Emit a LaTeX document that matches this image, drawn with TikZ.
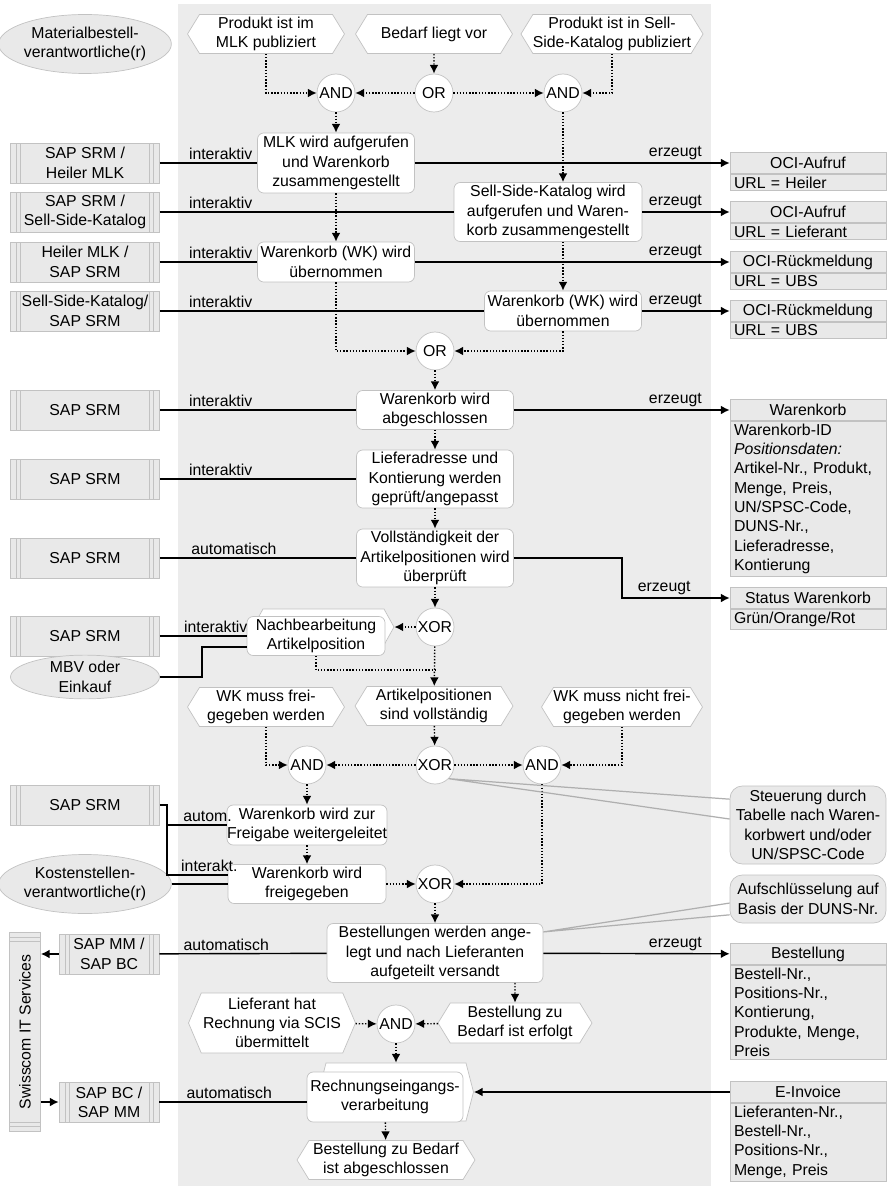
\documentclass[tikz,border=0pt]{standalone}
\usepackage{fontspec}
\setmainfont{Liberation Sans}
\usepackage{tikz}
\usetikzlibrary{shapes.geometric,shapes.symbols,arrows.meta,calc}
\definecolor{flaeche}{HTML}{ECECEC}
\definecolor{rand}{HTML}{C2C2C2}
\definecolor{kasten}{HTML}{E9E9E9}
\tikzset{
  fkt/.style={draw=rand, fill=white, rounded corners=3.5pt, align=center, inner sep=0pt, minimum width=3.14cm},
  ereignis/.style={signal, signal to=west and east, signal pointer angle=117, draw=rand, fill=white,
    align=center, inner sep=0pt, minimum width=3.14cm, minimum height=0.78cm},
  konn/.style={circle, draw=rand, fill=white, minimum size=0.76cm, inner sep=0pt},
  anw/.style={draw=rand, fill=kasten, align=center, inner sep=0pt, minimum width=2.98cm, minimum height=0.8cm,
    path picture={\foreach \d in {3.4pt,5.7pt}{
      \draw[rand] ([xshift=\d]path picture bounding box.north west) -- ([xshift=\d]path picture bounding box.south west);
      \draw[rand] ([xshift=-\d]path picture bounding box.north east) -- ([xshift=-\d]path picture bounding box.south east);}}},
  anwv/.style={draw=rand, fill=kasten, inner sep=0pt, minimum width=0.62cm, minimum height=3.98cm,
    path picture={\foreach \d in {2.8pt,5.1pt}{
      \draw[rand] ([yshift=-\d]path picture bounding box.north west) -- ([yshift=-\d]path picture bounding box.north east);
      \draw[rand] ([yshift=\d]path picture bounding box.south west) -- ([yshift=\d]path picture bounding box.south east);}}},
  orgein/.style={ellipse, draw=rand, fill=kasten, align=center, inner sep=0pt, minimum width=2.98cm},
  dkopf/.style={draw=rand, fill=kasten, inner sep=0pt, minimum width=3.12cm, minimum height=0.42cm},
  dinhalt/.style={draw=rand, fill=kasten, anchor=north, text width=2.96cm, inner xsep=0.08cm, inner ysep=1.4pt, align=left},
  notiz/.style={draw=rand, fill=kasten, rounded corners=7pt, align=center, inner sep=0pt, minimum width=3.12cm},
  notizlinie/.style={draw=rand!90!black, line width=0.7pt},
  kfluss/.style={densely dotted, line width=0.8pt, ->},
  linie/.style={line width=0.8pt},
  pfeil/.style={line width=0.8pt, ->},
  beschr/.style={inner sep=1.5pt}
}

\begin{document}
\begin{tikzpicture}[x=0.02cm, y=-0.02cm, >={Latex[length=5pt,width=5pt]},
  every node/.append style={font=\fontsize{9pt}{11pt}\selectfont}]
	\useasboundingbox (0,0) rectangle (887,1189);
	\fill[flaeche] (178,4) rectangle (711,1186);
	% Organisation und Ereignisse oben
	\node[orgein, minimum height=1.18cm] (oMatBest) at (85,44) {Materialbestell-\\verantwortliche(r)};
	\node[ereignis] (eMLK) at (266,34) {Produkt ist im\\MLK publiziert};
	\node[ereignis] (eBedarf) at (434,34) {Bedarf liegt vor};
	\node[ereignis, minimum width=3.56cm] (eSSK) at (612,34) {Produkt ist in Sell-\\Side-Katalog publiziert};
	\node[konn] (and1) at (336,93) {AND};
	\node[konn] (or1) at (434,93) {OR};
	\node[konn] (and2) at (563,93) {AND};
	% Funktionen
	\node[fkt, minimum height=1.2cm] (fMLK) at (336,163) {MLK wird aufgerufen\\und Warenkorb\\zusammengestellt};
	\node[fkt, minimum width=3.76cm, minimum height=1.18cm] (fSSK) at (548,212) {Sell-Side-Katalog wird\\aufgerufen und Waren-\\korb zusammengestellt};
	\node[fkt, minimum height=0.8cm] (fWK1) at (336,262) {Warenkorb (WK) wird\\übernommen};
	\node[fkt, minimum height=0.8cm] (fWK2) at (563,311) {Warenkorb (WK) wird\\übernommen};
	\node[konn] (or2) at (435,351) {OR};
	\node[fkt, minimum height=0.78cm] (fAbschl) at (435,410) {Warenkorb wird\\abgeschlossen};
	\node[fkt, minimum height=1.16cm] (fLief) at (435,479) {Lieferadresse und\\Kontierung werden\\geprüft/angepasst};
	\node[fkt, minimum height=1.16cm] (fVoll) at (435,558) {Vollständigkeit der\\Artikelpositionen wird\\überprüft};
	\node[konn] (xor1) at (435,627) {XOR};
	\node[ereignis, minimum width=2.82cm, minimum height=0.72cm, signal pointer angle=122] (hNachb) at (323.5,627) {};
	\node[fkt, minimum width=2.76cm, minimum height=0.78cm] (fNachb) at (316,636) {Nachbearbeitung\\Artikelposition};
	\node[ereignis, minimum width=3.16cm] (eVoll) at (434,706) {Artikelpositionen\\sind vollständig};
	\node[ereignis] (eFrei) at (266,707) {WK muss frei-\\gegeben werden};
	\node[ereignis] (eNichtFrei) at (622,707) {WK muss nicht frei-\\gegeben werden};
	\node[konn] (xor2) at (435,765) {XOR};
	\node[konn] (and3) at (307,765) {AND};
	\node[konn] (and4) at (542,765) {AND};
	\node[fkt, minimum width=3.16cm, minimum height=0.8cm] (fWeiter) at (307,825) {Warenkorb wird zur\\Freigabe weitergeleitet};
	\node[fkt, minimum width=3.16cm, minimum height=0.78cm] (fFrei) at (307,884) {Warenkorb wird\\freigegeben};
	\node[konn] (xor3) at (435,884) {XOR};
	\node[fkt, minimum width=4.32cm, minimum height=1.18cm] (fBest) at (435,953) {Bestellungen werden ange-\\legt und nach Lieferanten\\aufgeteilt versandt};
	\node[ereignis, minimum width=3.08cm, minimum height=0.8cm] (eBestErf) at (515,1023) {Bestellung zu\\Bedarf ist erfolgt};
	\node[ereignis, minimum width=3.34cm, minimum height=1.2cm, signal pointer angle=134] (eSCIS) at (272,1023) {Lieferant hat\\Rechnung via SCIS\\übermittelt};
	\node[konn] (and5) at (396,1024) {AND};
	\node[ereignis, minimum width=3.1cm, minimum height=1.16cm, signal pointer angle=151] (hRechn) at (396,1092) {};
	\node[fkt, minimum width=3.12cm, minimum height=1.0cm] (fRechn) at (385,1097) {Rechnungseingangs-\\verarbeitung};
	\node[ereignis, minimum width=3.56cm] (eAbgeschl) at (386,1160) {Bestellung zu Bedarf\\ist abgeschlossen};
	% Anwendungssysteme und Organisation links
	\node[anw] (sHeiler) at (85,163) {SAP SRM /\\Heiler MLK};
	\node[anw] (sSSK) at (85,212) {SAP SRM /\\Sell-Side-Katalog};
	\node[anw] (sHeiler2) at (85,262) {Heiler MLK /\\SAP SRM};
	\node[anw] (sSSK2) at (85,311) {Sell-Side-Katalog/\\SAP SRM};
	\node[anw] (sSRM1) at (85,410) {SAP SRM};
	\node[anw] (sSRM2) at (85,479) {SAP SRM};
	\node[anw] (sSRM3) at (85,558) {SAP SRM};
	\node[anw] (sSRM4) at (85,636) {SAP SRM};
	\node[orgein, minimum height=0.8cm] (oMBV) at (85,677) {MBV oder\\Einkauf};
	\node[anw] (sSRM5) at (85,805) {SAP SRM};
	\node[orgein, minimum height=1.18cm] (oKost) at (85,884) {Kostenstellen-\\verantwortliche(r)};
	\node[anw, minimum width=2.0cm] (sMM) at (109,954) {SAP MM /\\SAP BC};
	\node[anw, minimum width=2.0cm] (sBC) at (109,1102) {SAP BC /\\SAP MM};
	\node[anwv] (sSwiss) at (25,1032) {\rotatebox{90}{Swisscom IT Services}};
	% Datenobjekte rechts
	\node[dkopf] (dOCI1) at (808,163) {OCI-Aufruf};
	\node[dinhalt] (dOCI1b) at (dOCI1.south) {URL = Heiler};
	\node[dkopf] (dOCI2) at (808,212) {OCI-Aufruf};
	\node[dinhalt] (dOCI2b) at (dOCI2.south) {URL = Lieferant};
	\node[dkopf] (dOCI3) at (808,262) {OCI-Rückmeldung};
	\node[dinhalt] (dOCI3b) at (dOCI3.south) {URL = UBS};
	\node[dkopf] (dOCI4) at (808,311) {OCI-Rückmeldung};
	\node[dinhalt] (dOCI4b) at (dOCI4.south) {URL = UBS};
	\node[dkopf] (dWK) at (808,410) {Warenkorb};
	\node[dinhalt] (dWKb) at (dWK.south) {Warenkorb-ID\\\textit{Positionsdaten:}\\Artikel-Nr., Produkt,\\Menge, Preis,\\UN/SPSC-Code,\\DUNS-Nr.,\\Lieferadresse,\\Kontierung};
	\node[dkopf] (dStatus) at (808,598) {Status Warenkorb};
	\node[dinhalt] (dStatusb) at (dStatus.south) {Grün/Orange/Rot};
	\node[dkopf] (dBest) at (808,954) {Bestellung};
	\node[dinhalt] (dBestb) at (dBest.south) {Bestell-Nr.,\\Positions-Nr.,\\Kontierung,\\Produkte, Menge,\\Preis};
	\node[dkopf] (dInv) at (808,1092) {E-Invoice};
	\node[dinhalt] (dInvb) at (dInv.south) {Lieferanten-Nr.,\\Bestell-Nr.,\\Positions-Nr.,\\Menge, Preis};
	\node[notiz, minimum height=1.56cm] (nSteuer) at (808,825) {Steuerung durch\\Tabelle nach Waren-\\korbwert und/oder\\UN/SPSC-Code};
	\node[notiz, minimum height=0.96cm] (nDuns) at (808,899) {Aufschlüsselung auf\\Basis der DUNS-Nr.};
	% Kontrollfluss
	\draw[kfluss] (eMLK.south) |- (and1);
	\draw[kfluss] (eBedarf) -- (or1);
	\draw[kfluss] (or1) -- (and1);
	\draw[kfluss] (or1) -- (and2);
	\draw[kfluss] (eSSK.south) |- (and2);
	\draw[kfluss] (and1) -- (fMLK);
	\draw[kfluss] (and2) -- (and2 |- fSSK.north);
	\draw[kfluss] (fMLK) -- (fWK1);
	\draw[kfluss] (fSSK.south -| fWK2) -- (fWK2);
	\draw[kfluss] (fWK1.south) |- (or2);
	\draw[kfluss] (fWK2.south) |- (or2);
	\draw[kfluss] (or2) -- (fAbschl);
	\draw[kfluss] (fAbschl) -- (fLief);
	\draw[kfluss] (fLief) -- (fVoll);
	\draw[kfluss] (fVoll) -- (xor1);
	\draw[kfluss] (xor1) -- (hNachb.east);
	\draw[kfluss] (xor1) -- (eVoll);
	\coordinate (nachbKnick) at (435,670);
	\draw[densely dotted, line width=0.8pt] (fNachb.south) |- (nachbKnick);
	\draw[kfluss] (eVoll) -- (xor2);
	\draw[kfluss] (xor2) -- (and3);
	\draw[kfluss] (xor2) -- (and4);
	\draw[kfluss] (eFrei.south) |- (and3);
	\draw[kfluss] (eNichtFrei.south) |- (and4);
	\draw[kfluss] (and3) -- (fWeiter);
	\draw[kfluss] (fWeiter) -- (fFrei);
	\draw[kfluss] (fFrei) -- (xor3);
	\draw[kfluss] (and4.south) |- (xor3);
	\draw[kfluss] (xor3) -- (fBest);
	\draw[kfluss] (fBest.south -| eBestErf) -- (eBestErf);
	\draw[kfluss] (eSCIS) -- (and5);
	\draw[kfluss] (eBestErf) -- (and5);
	\draw[kfluss] (and5) -- (hRechn.north);
	\draw[kfluss] (fRechn) -- (eAbgeschl);
	% Zuordnungen und Output
	\draw[linie] (sHeiler) -- (fMLK) node[beschr, at start, anchor=south west, xshift=14.7pt] {interaktiv};
	\draw[pfeil] (fMLK) -- (dOCI1) node[beschr, at end, anchor=south east, xshift=-14pt] {erzeugt};
	\draw[linie] (sSSK) -- (fSSK) node[beschr, at start, anchor=south west, xshift=14.7pt] {interaktiv};
	\draw[pfeil] (fSSK) -- (dOCI2) node[beschr, at end, anchor=south east, xshift=-14pt] {erzeugt};
	\draw[linie] (sHeiler2) -- (fWK1) node[beschr, at start, anchor=south west, xshift=14.7pt] {interaktiv};
	\draw[pfeil] (fWK1) -- (dOCI3) node[beschr, at end, anchor=south east, xshift=-14pt] {erzeugt};
	\draw[linie] (sSSK2) -- (fWK2) node[beschr, at start, anchor=south west, xshift=14.7pt] {interaktiv};
	\draw[pfeil] (fWK2) -- (dOCI4) node[beschr, at end, anchor=south east, xshift=-14pt] {erzeugt};
	\draw[linie] (sSRM1) -- (fAbschl) node[beschr, at start, anchor=south west, xshift=14.7pt] {interaktiv};
	\draw[pfeil] (fAbschl) -- (dWK) node[beschr, at end, anchor=south east, xshift=-14pt] {erzeugt};
	\draw[linie] (sSRM2) -- (fLief) node[beschr, at start, anchor=south west, xshift=14.7pt] {interaktiv};
	\draw[linie] (sSRM3) -- (fVoll) node[beschr, at start, anchor=south west, xshift=16pt] {automatisch};
	\coordinate (vollKnick) at (622,598);
	\draw[pfeil] (fVoll) -| (vollKnick) -- (dStatus) node[beschr, at end, anchor=south east, xshift=-20.4pt] {erzeugt};
	\draw[linie] (sSRM4) -- (sSRM4 -| fNachb.west) node[beschr, at start, anchor=south west, xshift=11.9pt] {interaktiv};
	\coordinate (mbvKnick) at (202,647);
	\draw[linie] (oMBV) -| (mbvKnick) -- (mbvKnick -| fNachb.west);
	\coordinate (srmKnick) at (167,875);
	\draw[linie] (sSRM5) -| (srmKnick) -- (srmKnick -| fFrei.west) node[beschr, at start, anchor=south west, xshift=6.2pt] {interakt.};
	\draw[linie] (srmKnick |- fWeiter) -- (fWeiter) node[beschr, at start, anchor=south west, xshift=7.4pt] {autom.};
	\draw[linie] (oKost) -- (fFrei);
	\draw[linie] (sMM) -- (fBest) node[beschr, at start, anchor=south west, xshift=11.9pt] {automatisch};
	\draw[pfeil] (fBest) -- (dBest) node[beschr, at end, anchor=south east, xshift=-14pt] {erzeugt};
	\draw[pfeil] (sMM) -- (sMM -| sSwiss.east);
	\draw[pfeil] (sBC -| sSwiss.east) -- (sBC);
	\draw[linie] (sBC) -- (sBC -| fRechn.west) node[beschr, at start, anchor=south west, xshift=13.6pt] {automatisch};
	\draw[pfeil] (dInv) -- (hRechn.east);
	% Hinweise
	\draw[notizlinie] ([yshift=14.7pt]nSteuer.west) -- (xor2.south east) -- ([yshift=3.4pt]nSteuer.west);
	\draw[notizlinie] ([yshift=-2.3pt]nDuns.west) -- ([yshift=-5pt]fBest.north east) -- ([yshift=-9pt]nDuns.west);
	%\draw [red] (current bounding box.south west) rectangle (current bounding box.north east);
\end{tikzpicture}
\end{document}
